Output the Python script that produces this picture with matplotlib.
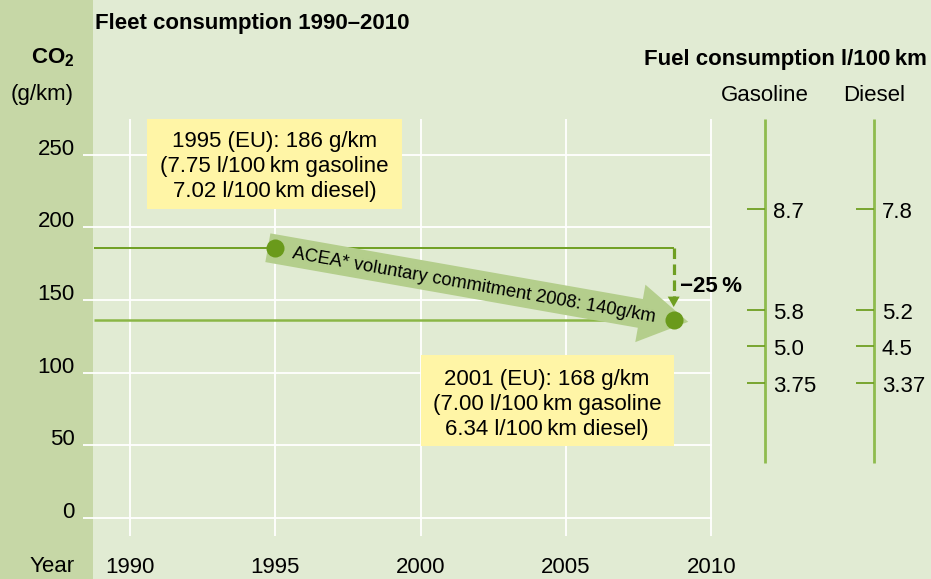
import math
import matplotlib
matplotlib.use("Agg")
import matplotlib.pyplot as plt
from matplotlib.patches import Rectangle, FancyArrowPatch, ArrowStyle

# ---------------- data ----------------
years = [1990, 1995, 2000, 2005, 2010]
co2_ticks = [0, 50, 100, 150, 200, 250]
start_year, start_co2 = 1995, 186
end_year, end_co2 = 2008.7, 136
reduction_label = "\u221225\u2009%"
acea_label = "ACEA* voluntary commitment 2008: 140g/km"
box1_lines = ["1995 (EU): 186 g/km", "(7.75 l/100\u2009km gasoline", "7.02 l/100\u2009km diesel)"]
box2_lines = ["2001 (EU): 168 g/km", "(7.00 l/100\u2009km gasoline", "6.34 l/100\u2009km diesel)"]
gasoline_l = ["8.7", "5.8", "5.0", "3.75"]
diesel_l = ["7.8", "5.2", "4.5", "3.37"]
fuel_co2_equiv = [212.5, 143, 118.5, 93]

# ---------------- style ----------------
BG = "#e1ebd3"
STRIP = "#c6d7a6"
YELLOW = "#fff5a6"
MARKER = "#6a9a1b"
ARROW = "#b4ce8c"
LINE_TOP = "#6f9f22"
LINE_LOW = "#8bb646"
SCALE = "#8fbb4e"
TXT = "#000000"
FS = 16

plt.rcParams["font.family"] = ["Liberation Sans", "DejaVu Sans"]
plt.rcParams["mathtext.fontset"] = "custom"
plt.rcParams["mathtext.rm"] = "Liberation Sans"
plt.rcParams["mathtext.bf"] = "Liberation Sans:bold"

W, H = 931, 579
fig = plt.figure(figsize=(W / 100, H / 100), dpi=100, facecolor=BG)


def fx(px):
    return px / W


def fy(py):
    return 1 - py / H


# pixel mapping helpers (layout)
X0, XS = 129.7, 29.1   # pixel of 1990, pixels per year
Y0, YS = 518.0, 1.453  # pixel of 0 g/km, pixels per g/km


def yr(px):
    return 1990 + (px - X0) / XS


def val(py):
    return (Y0 - py) / YS


# left strip
fig.add_artist(Rectangle((0, 0), fx(93), 1, transform=fig.transFigure,
                         facecolor=STRIP, edgecolor="none", zorder=-10))

ax_l, ax_r, ax_t, ax_b = 83, 711.5, 119, 536
ax = fig.add_axes([fx(ax_l), fy(ax_b), fx(ax_r) - fx(ax_l), fy(ax_t) - fy(ax_b)])
ax.set_xlim(yr(ax_l), yr(ax_r))
ax.set_ylim(val(ax_b), val(ax_t))
ax.patch.set_alpha(0)
for s in ax.spines.values():
    s.set_visible(False)
ax.grid(True, color="white", lw=1.3)
ax.set_axisbelow(True)
ax.set_xticks(years, [str(y) for y in years])
ax.set_yticks(co2_ticks, [str(v) for v in co2_ticks])
ax.tick_params(axis="both", length=0, labelsize=FS, labelcolor=TXT)
ax.tick_params(axis="y", pad=5.8)
ax.tick_params(axis="x", pad=26.3)
for lbl in ax.get_yticklabels():
    lbl.set_va("baseline")
for lbl in ax.get_xticklabels():
    lbl.set_va("baseline")

# reference lines
strip_edge = yr(94)
ax.plot([strip_edge, end_year], [start_co2, start_co2], color=LINE_TOP, lw=1.4, zorder=2,
        solid_capstyle="butt")
ax.plot([strip_edge, end_year], [end_co2, end_co2], color=LINE_LOW, lw=1.8, zorder=2,
        solid_capstyle="butt")

# dashed drop with arrow head
tip_v = end_co2 + 9.2
ax.plot([end_year, end_year], [start_co2, tip_v + 5], color=LINE_TOP, lw=2.3,
        ls=(0, (3.3, 1.7)), zorder=3, dash_capstyle="butt")
ax.annotate("", xy=(end_year, tip_v), xytext=(end_year, tip_v + 20),
            arrowprops=dict(arrowstyle="-|>,head_length=0.75,head_width=0.43",
                            facecolor=LINE_TOP, edgecolor=LINE_TOP, lw=0,
                            shrinkA=0, shrinkB=0), zorder=3)

# big arrow
posA = (start_year - 0.25, start_co2)
posB = (end_year + 0.5, end_co2 - 1)
arrow = FancyArrowPatch(posA, posB,
                        arrowstyle=ArrowStyle.Simple(head_length=35, head_width=42, tail_width=21),
                        mutation_scale=1, facecolor=ARROW, edgecolor="none",
                        shrinkA=0, shrinkB=0, zorder=2.5)
ax.add_patch(arrow)
pA = ax.transData.transform(posA)
pB = ax.transData.transform(posB)
ang = math.degrees(math.atan2(pB[1] - pA[1], pB[0] - pA[0]))
t = 0.49
tx = posA[0] + t * (posB[0] - posA[0])
ty = posA[1] + t * (posB[1] - posA[1])
ax.text(tx, ty - 1.0, acea_label, rotation=ang, rotation_mode="anchor",
        ha="center", va="center", fontsize=13.2, color=TXT, zorder=4)

# markers
ax.plot([start_year, end_year], [start_co2, end_co2], "o", ms=13, color=MARKER,
        mec="none", zorder=5)

ax.annotate(reduction_label, xy=(end_year, end_co2), xytext=(6, 28.7),
            textcoords="offset pixels", ha="left", va="baseline",
            fontsize=FS, fontweight="bold", color=TXT, zorder=6)

# yellow boxes
def text_box(x0, x1, ytop, ybot, lines, first, step):
    ax.add_patch(Rectangle((x0, ybot), x1 - x0, ytop - ybot, facecolor=YELLOW,
                           edgecolor="none", zorder=3, clip_on=False))
    cx = (x0 + x1) / 2
    for i, line in enumerate(lines):
        ax.annotate(line, xy=(cx, ytop), xytext=(0, -(first + i * step)),
                    textcoords="offset pixels", ha="center", va="baseline",
                    fontsize=FS, color=TXT, zorder=4, annotation_clip=False)


text_box(yr(147), yr(402), val(119), val(209), box1_lines, 27.5, 25.5)
text_box(2000, end_year, val(355), val(446), box2_lines, 30, 25)

# right fuel scales
ax2 = fig.add_axes([fx(720), fy(ax_b), fx(931) - fx(720), fy(ax_t) - fy(ax_b)])
ax2.set_xlim(720, 931)
ax2.set_ylim(val(ax_b), val(ax_t))
ax2.axis("off")
for x, labels in ((764.7, gasoline_l), (873.7, diesel_l)):
    ax2.vlines(x, val(463), val(ax_t), color=SCALE, lw=2)
    ax2.hlines(fuel_co2_equiv, x - 18, x, color=LINE_TOP, lw=1.3)
    for v, lab in zip(fuel_co2_equiv, labels):
        ax2.annotate(lab, xy=(x, v), xytext=(8, -9), textcoords="offset pixels",
                     ha="left", va="baseline", fontsize=FS, color=TXT)

# headers
fig.text(fx(95), fy(29), "Fleet consumption 1990\u20132010", fontsize=FS,
         fontweight="bold", va="baseline", color=TXT)
fig.text(fx(75), fy(63), r"$\mathbf{CO_2}$", fontsize=FS, ha="right", va="baseline", color=TXT)
fig.text(fx(74), fy(100), "(g/km)", fontsize=FS, ha="right", va="baseline", color=TXT)
fig.text(fx(75), fy(572.5), "Year", fontsize=FS, ha="right", va="baseline", color=TXT)
fig.text(fx(927), fy(65), "Fuel consumption l/100\u2009km", fontsize=FS, fontweight="bold",
         ha="right", va="baseline", color=TXT)
fig.text(fx(764.7), fy(100.7), "Gasoline", fontsize=FS, ha="center", va="baseline", color=TXT)
fig.text(fx(873.8), fy(100.7), "Diesel", fontsize=FS, ha="center", va="baseline", color=TXT)

fig.savefig("out.png", dpi=100, facecolor=BG)
